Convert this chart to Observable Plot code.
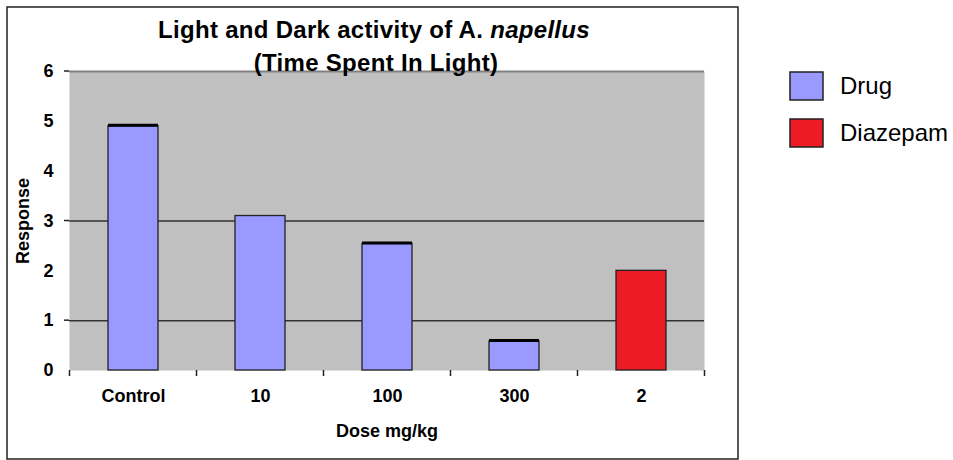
<!DOCTYPE html>
<html>
<head>
<meta charset="utf-8">
<script src="https://cdn.jsdelivr.net/npm/d3@7"></script>
<script src="https://cdn.jsdelivr.net/npm/@observablehq/plot@0.6"></script>
<style>
  html, body { margin: 0; padding: 0; background: #fff; }
  #chart svg { display: block; }
</style>
</head>
<body>
<div id="chart"></div>
<script>
// Dose groups along the x axis
const doses = ["Control", "10", "100", "300", "2"];
// Treatment each dose group belongs to
const treatments = ["Drug", "Drug", "Drug", "Drug", "Diazepam"];
// Mean time spent in light (response)
const responses = [4.9, 3.1, 2.54, 0.58, 2.0];
// Standard error drawn as a cap on top of each bar
const errors = [0.04, 0, 0.04, 0.04, 0];
// Legend entries and y-axis ticks
const legendKeys = ["Drug", "Diazepam"];
const yTicks = [0, 1, 2, 3, 4, 5, 6];
const gridValues = [1, 3];
const tickMarks = [1, 3, 6];

const rows = doses.map((d, i) => ({
  dose: d, group: treatments[i], response: responses[i], err: errors[i]
}));

const font = "'Liberation Sans', Arial, Helvetica, sans-serif";

const chart = Plot.plot({
  width: 953,
  height: 460,
  marginLeft: 69,
  marginRight: 249,
  marginTop: 71,
  marginBottom: 90,
  style: { fontFamily: font, background: "#fff", color: "#000" },
  x: { domain: doses, paddingInner: 0.61, paddingOuter: 0.305 },
  y: { domain: [0, 6], ticks: yTicks },
  color: { domain: legendKeys, range: ["#9999ff", "#ed1c24"] },
  marks: [
    Plot.frame({ fill: "#c0c0c0", stroke: null }),
    Plot.gridY(gridValues, { stroke: "#333", strokeOpacity: 1, strokeWidth: 1.5 }),
    Plot.ruleY([6], { stroke: "#808080", strokeWidth: 2 }),
    Plot.barY(rows, { x: "dose", y: "response", fill: "group", stroke: "#222", strokeWidth: 1.3 }),
    Plot.tickY(rows.filter(d => d.err > 0), { x: "dose", y: d => d.response + d.err / 2, stroke: "#000", strokeWidth: 3 }),
    Plot.ruleX([0], { frameAnchor: "left", y1: 0, y2: 6, stroke: "#222", strokeWidth: 1.5 }),
    Plot.axisY({
      ticks: yTicks, tickSize: 0, tickPadding: 16, tickFormat: d => String(d),
      fontWeight: "bold", fontSize: 18,
      label: "Response", labelAnchor: "center", labelArrow: "none", labelOffset: 53
    }),
    Plot.axisX({
      tickSize: 0, tickPadding: 19,
      fontWeight: "bold", fontSize: 18,
      label: "Dose mg/kg", labelAnchor: "center", labelArrow: "none", labelOffset: 66
    })
  ]
});

document.getElementById("chart").appendChild(chart);

const svg = d3.select(chart);
const xs = chart.scale("x");
const ys = chart.scale("y");
const cs = chart.scale("color");
const y0 = ys.apply(0);
const x0 = 69;
const half = (xs.step - xs.bandwidth) / 2;

// Tick marks at the boundaries between dose groups
const bounds = doses.map(d => xs.apply(d) - half).concat([xs.apply(doses[doses.length - 1]) + xs.bandwidth + half]);
svg.append("g")
  .attr("stroke", "#222").attr("stroke-width", 1.5)
  .selectAll("line").data(bounds).join("line")
  .attr("x1", d => d).attr("x2", d => d)
  .attr("y1", y0).attr("y2", y0 + 6);

// Short tick marks on the value axis
svg.append("g")
  .attr("stroke", "#222").attr("stroke-width", 1.5)
  .selectAll("line").data(tickMarks).join("line")
  .attr("x1", x0 - 5).attr("x2", x0)
  .attr("y1", d => ys.apply(d)).attr("y2", d => ys.apply(d));

// Outer chart border
svg.append("rect")
  .attr("x", 7).attr("y", 7).attr("width", 731).attr("height", 452)
  .attr("fill", "none").attr("stroke", "#222").attr("stroke-width", 1.5);

// Title
const title = svg.append("text")
  .attr("text-anchor", "middle").attr("font-family", font)
  .attr("font-size", 24).attr("font-weight", "bold").attr("fill", "#000")
  .attr("letter-spacing", 0.3);
const line1 = title.append("tspan").attr("x", 374).attr("y", 38);
line1.append("tspan").text("Light and Dark activity of A. ");
line1.append("tspan").attr("font-style", "italic").text("napellus");
title.append("tspan").attr("x", 376).attr("y", 71).text("(Time Spent In Light)");

// Legend
const legend = svg.append("g").attr("font-family", font).attr("text-anchor", "start");
const items = legend.selectAll("g").data(legendKeys).join("g")
  .attr("transform", (d, i) => `translate(790, ${72 + i * 47})`);
items.append("rect")
  .attr("width", 33).attr("height", 28)
  .attr("fill", d => cs.apply(d)).attr("stroke", "#222").attr("stroke-width", 1.5);
items.append("text")
  .attr("x", 50).attr("y", 14).attr("dy", "0.35em")
  .attr("font-size", 24).attr("fill", "#000")
  .text(d => d);
</script>
</body>
</html>
